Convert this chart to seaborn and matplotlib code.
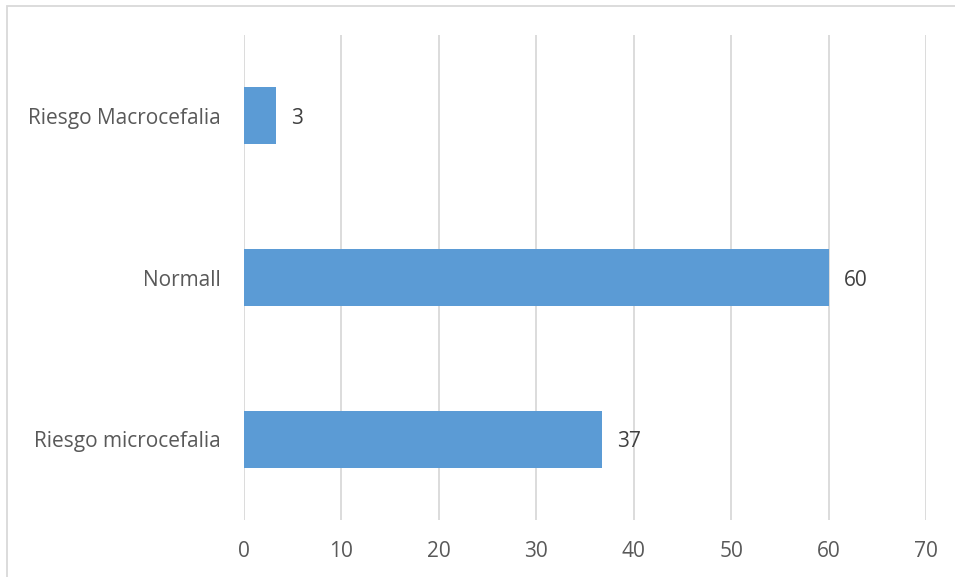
import matplotlib
matplotlib.use("Agg")
import matplotlib.pyplot as plt
import seaborn as sns
import pandas as pd
from matplotlib.patches import Rectangle

categories = ["Riesgo Macrocefalia", "Normall", "Riesgo microcefalia"]
values = [3.3, 60.0, 36.7]
x_ticks = [0, 10, 20, 30, 40, 50, 60, 70]

sns.set_theme(style="white")
plt.rcParams['font.family'] = ['Open Sans', 'DejaVu Sans']

df = pd.DataFrame({"cat": categories, "val": values})

fig = plt.figure(figsize=(9.55, 5.77), dpi=100)
ax = fig.add_axes([244/955, 1-520/577, (926-244)/955, (520-35)/577])

sns.barplot(data=df, x="val", y="cat", orient="h", color="#5B9BD5",
            saturation=1, width=0.353, ax=ax, order=categories, linewidth=0)

ax.set_xlim(0, 70)
ax.set_ylim(2.5, -0.5)
ax.set_xticks(x_ticks)
ax.set_xticklabels([str(t) for t in x_ticks])
ax.grid(axis="x", color="#D9D9D9", linewidth=1.3)
ax.set_axisbelow(True)
for s in ax.spines.values():
    s.set_visible(False)
ax.set_xlabel("")
ax.set_ylabel("")
ax.tick_params(axis="x", length=0, pad=15, labelsize=15, labelcolor="#595959")
ax.tick_params(axis="y", length=0, pad=17, labelsize=15, labelcolor="#595959")

for i, v in enumerate(values):
    ax.annotate(f"{v:.0f}", xy=(v, i), xytext=(11, 0), textcoords="offset points",
                va="center_baseline", ha="left", fontsize=15, color="#404040")

fig.patches.append(Rectangle((7/955, -0.1), 1.2, 1-6/577+0.1, transform=fig.transFigure,
                             fill=False, edgecolor="#D9D9D9", linewidth=1.3))

fig.savefig("out.png", dpi=100)
